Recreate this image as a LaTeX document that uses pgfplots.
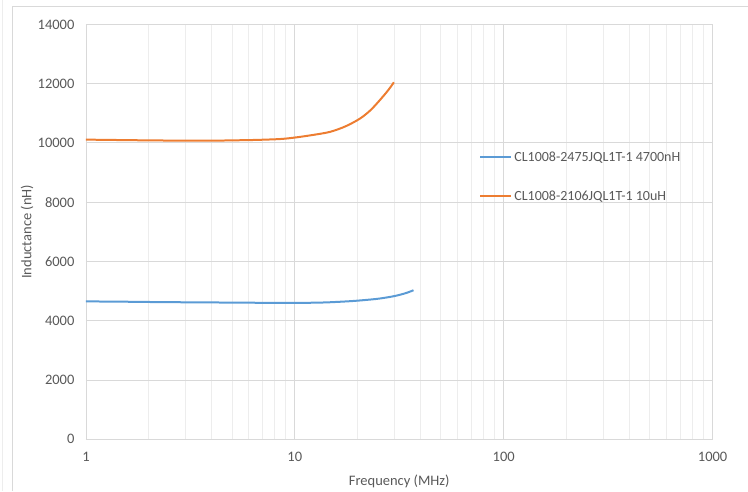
\documentclass[border=0pt]{standalone}
\usepackage{fontspec}
\setmainfont{Carlito}
\usepackage{pgfplots}
\pgfplotsset{compat=1.18}
\usetikzlibrary{calc}

\definecolor{xlblue}{HTML}{5B9BD5}
\definecolor{xlorange}{HTML}{ED7D31}
\definecolor{txtgray}{HTML}{595959}
\definecolor{majgrid}{HTML}{D9D9D9}
\definecolor{mingrid}{HTML}{EDEDED}

\begin{document}
\begin{tikzpicture}
\begin{axis}[
  name=ax,
  scale only axis,
  width=627pt, height=415pt,
  xmode=log,
  xmin=1, xmax=1000,
  ymin=0, ymax=14000,
  ytick={0,2000,...,14000},
  xtick={1,10,100,1000},
  xticklabels={1,10,100,1000},
  log ticks with fixed point,
  scaled y ticks=false,
  yticklabel style={/pgf/number format/fixed,/pgf/number format/1000 sep={}},
  /pgf/number format/assume math mode=true,
  ticklabel style={font=\fontsize{14.5}{16}\selectfont, text=txtgray},
  label style={font=\fontsize{14.5}{16}\selectfont, text=txtgray},
  xlabel={Frequency (MHz)},
  ylabel={Inductance (nH)},
  xlabel style={at={(0.5,0)}, anchor=center, yshift=-42pt},
  ylabel style={at={(0,0.5)}, anchor=center, yshift=59pt},
  major tick length=0pt, minor tick length=0pt,
  grid=both,
  major grid style={majgrid, line width=0.8pt},
  minor grid style={mingrid, line width=0.8pt},
  axis line style={draw=none},
  xticklabel style={yshift=-9pt},
  yticklabel style={xshift=-8pt},
  legend style={draw=none, fill=none, at={(0.627,0.698)}, anchor=north west,
    font=\fontsize{14}{16}\selectfont, text=txtgray, row sep=24pt,
    legend cell align=left, inner sep=0pt},
  legend image code/.code={\draw[#1, line width=2pt] (0,0) -- (1.1cm,0);},
]
\addplot[xlblue, line width=2pt, smooth] coordinates {
  (1,4650) (1.5,4640) (2,4630) (3,4620) (5,4610) (8,4600) (10.6,4600)
  (14,4615) (18.3,4656) (22,4700) (25.5,4747) (30,4830) (34,4930) (37,5027)
};
\addlegendentry{CL1008-2475JQL1T-1 4700nH}
\addplot[xlorange, line width=2pt, smooth] coordinates {
  (1,10110) (1.5,10095) (2,10085) (3,10075) (4,10075) (5,10085) (6.5,10100)
  (8.5,10130) (10,10180) (12,10260) (14.7,10370) (17.5,10560) (20.5,10820)
  (23,11100) (25.5,11440) (28,11780) (29.8,12045)
};
\addlegendentry{CL1008-2106JQL1T-1 10uH}
\draw[majgrid, line width=0.9pt] (rel axis cs:0,0) -- (rel axis cs:1,0);
\end{axis}
\draw[mingrid, line width=0.8pt] ($(ax.south west)+(-84pt,-52pt)$) -- ($(ax.south west)+(-84pt,439pt)$);
\draw[majgrid, line width=0.8pt] ($(ax.south west)+(-74pt,-52pt)$) -- ($(ax.south west)+(-74pt,433pt)$) -- ($(ax.south west)+(662pt,433pt)$);
\useasboundingbox ($(ax.south west)+(-86pt,-52pt)$) rectangle ($(ax.north east)+(35pt,24pt)$);
\end{tikzpicture}
\end{document}
